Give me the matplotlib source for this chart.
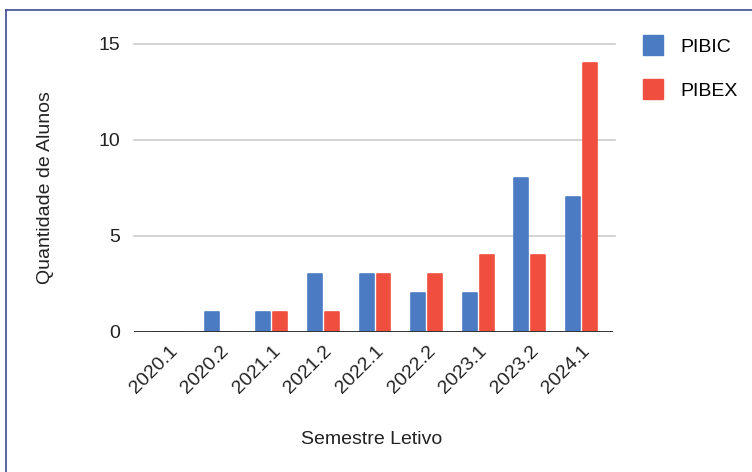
import matplotlib
matplotlib.use("Agg")
import matplotlib.pyplot as plt
import numpy as np
from matplotlib.lines import Line2D

plt.rcParams['font.family'] = ['Liberation Sans', 'DejaVu Sans']

semestres = ["2020.1", "2020.2", "2021.1", "2021.2", "2022.1",
             "2022.2", "2023.1", "2023.2", "2024.1"]
pibic = [0, 1, 1, 3, 3, 2, 2, 8, 7]
pibex = [0, 0, 1, 1, 3, 3, 4, 4, 14]
yticks = [0, 5, 10, 15]

cor_pibic = "#4a7bc3"
cor_pibex = "#f04f40"

W, H = 752, 472
fig = plt.figure(figsize=(W / 100, H / 100), dpi=100)
ax = fig.add_axes([134 / W, 1 - 331.5 / H, (613 - 134) / W, (331.5 - 44) / H])

x = np.arange(len(semestres))
bw = 0.27
off = 0.164
for xs, vals, cor in ((x - off, pibic, cor_pibic), (x + off, pibex, cor_pibex)):
    ax.bar(xs, vals, width=bw, color=cor, edgecolor=cor, linewidth=1.2,
           joinstyle='round', zorder=3)

ax.set_xlim(-0.67, 8.61)
ax.set_ylim(0, 15)
ax.set_yticks(yticks)
ax.set_yticklabels([str(v) for v in yticks], fontsize=14, color="#222222")
ax.tick_params(axis='y', length=0, pad=10)
ax.tick_params(axis='x', length=0, pad=8)
ax.set_xticks(x)
ax.set_xticklabels(semestres, rotation=45, ha='right', va='top',
                   rotation_mode='anchor', fontsize=14, color="#222222")

for v in yticks[1:]:
    ax.axhline(v, xmin=0, xmax=1.004, color="#cccccc", linewidth=1.2, zorder=1,
               clip_on=False)
ax.axhline(0, color="#333333", linewidth=1.4, zorder=4)
for s in ax.spines.values():
    s.set_visible(False)

ax.set_ylabel("Quantidade de Alunos", fontsize=14, color="#222222", labelpad=32)
fig.text(372 / W, 1 - 440 / H, "Semestre Letivo", fontsize=14, color="#222222",
         ha='center', va='center')

handles = [Line2D([], [], marker='s', linestyle='none', markersize=15,
                  markerfacecolor=c, markeredgecolor=c) for c in (cor_pibic, cor_pibex)]
fig.legend(handles, ["PIBIC", "PIBEX"], loc='upper left',
           bbox_to_anchor=(624 / W, 1 - 21 / H), frameon=False, fontsize=14,
           handletextpad=0.8, labelspacing=1.35, handlelength=1.2)

# frame around the chart
fig.add_artist(Line2D([5.5 / W, 5.5 / W], [0, 1 - 9.5 / H], color="#3d4b8e",
                      linewidth=1.2, transform=fig.transFigure))
fig.add_artist(Line2D([5.5 / W, 1], [1 - 9.5 / H, 1 - 9.5 / H], color="#3d4b8e",
                      linewidth=1.2, transform=fig.transFigure))

fig.savefig("out.png", dpi=100)
